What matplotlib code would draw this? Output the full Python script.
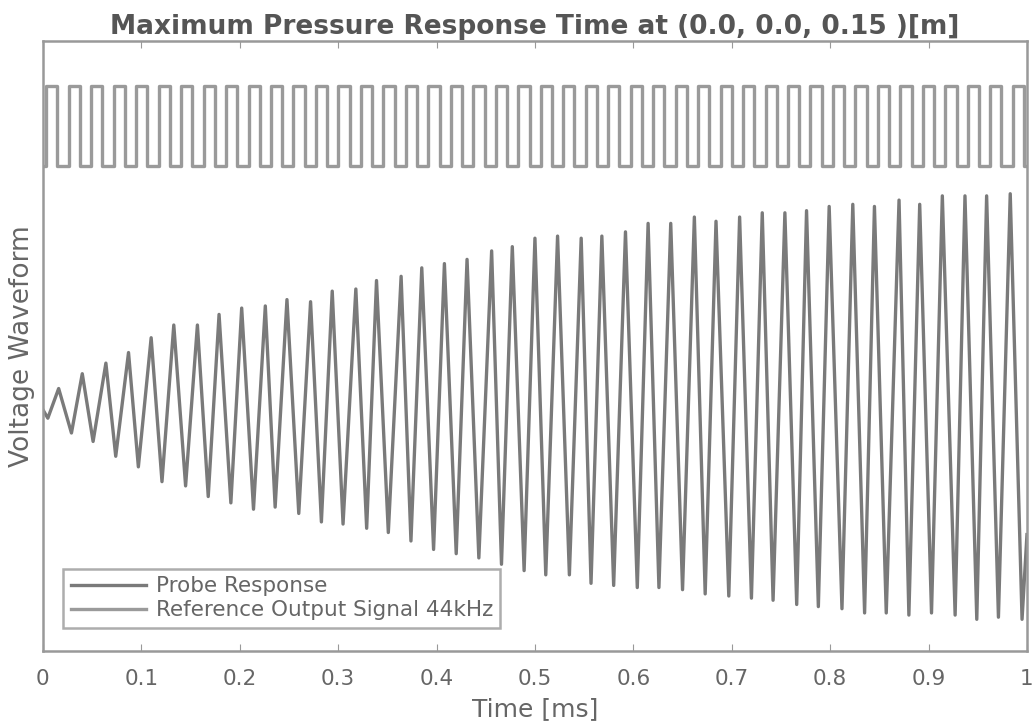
import matplotlib.pyplot as plt
import numpy as np

# probe response: times (ms) and values of the turning points
probe_t = [0.000, 0.005, 0.016, 0.029, 0.040, 0.051, 0.064, 0.074, 0.087, 0.097,
           0.110, 0.121, 0.133, 0.145, 0.157, 0.168, 0.179, 0.191, 0.202, 0.214,
           0.226, 0.236, 0.248, 0.260, 0.272, 0.283, 0.294, 0.305, 0.318, 0.329,
           0.339, 0.351, 0.364, 0.374, 0.385, 0.397, 0.408, 0.420, 0.431, 0.443,
           0.456, 0.466, 0.477, 0.489, 0.500, 0.511, 0.523, 0.535, 0.547, 0.557,
           0.568, 0.580, 0.592, 0.604, 0.615, 0.626, 0.638, 0.650, 0.662, 0.673,
           0.684, 0.697, 0.708, 0.720, 0.731, 0.742, 0.754, 0.766, 0.776, 0.788,
           0.799, 0.812, 0.823, 0.835, 0.845, 0.857, 0.870, 0.880, 0.891, 0.903,
           0.914, 0.927, 0.937, 0.949, 0.959, 0.971, 0.983, 0.995, 1.000]
probe_v = [-0.01, -0.05, 0.09, -0.12, 0.16, -0.16, 0.21, -0.23, 0.26, -0.28,
           0.33, -0.35, 0.39, -0.37, 0.39, -0.42, 0.44, -0.45, 0.47, -0.48,
           0.48, -0.47, 0.51, -0.50, 0.50, -0.54, 0.55, -0.55, 0.56, -0.57,
           0.60, -0.59, 0.62, -0.63, 0.66, -0.67, 0.68, -0.69, 0.70, -0.71,
           0.74, -0.74, 0.76, -0.77, 0.80, -0.79, 0.81, -0.79, 0.80, -0.83,
           0.81, -0.84, 0.83, -0.85, 0.87, -0.85, 0.87, -0.86, 0.90, -0.88,
           0.88, -0.89, 0.90, -0.90, 0.92, -0.91, 0.92, -0.93, 0.93, -0.94,
           0.95, -0.95, 0.96, -0.97, 0.95, -0.97, 0.98, -0.98, 0.96, -0.97,
           1.00, -0.98, 1.00, -1.00, 1.00, -0.99, 1.01, -1.00, -0.60]

# reference output signal (square wave): rising / falling edge times in ms
ref_rise = [0.0034, 0.0262, 0.0490, 0.0719, 0.0947, 0.1176, 0.1404, 0.1633, 0.1861, 0.2090,
            0.2318, 0.2546, 0.2775, 0.3003, 0.3232, 0.3460, 0.3689, 0.3917, 0.4145, 0.4374,
            0.4602, 0.4831, 0.5059, 0.5288, 0.5516, 0.5744, 0.5973, 0.6201, 0.6430, 0.6658,
            0.6886, 0.7115, 0.7343, 0.7572, 0.7800, 0.8029, 0.8257, 0.8485, 0.8714, 0.8942,
            0.9170, 0.9399, 0.9627, 0.9856]
ref_fall = [0.0148, 0.0376, 0.0604, 0.0833, 0.1061, 0.1290, 0.1518, 0.1747, 0.1975, 0.2204,
            0.2432, 0.2660, 0.2889, 0.3117, 0.3346, 0.3574, 0.3803, 0.4031, 0.4259, 0.4488,
            0.4716, 0.4945, 0.5173, 0.5402, 0.5630, 0.5858, 0.6087, 0.6315, 0.6544, 0.6772,
            0.7000, 0.7229, 0.7457, 0.7686, 0.7914, 0.8143, 0.8371, 0.8599, 0.8828, 0.9056,
            0.9284, 0.9513, 0.9741, 0.9970]
ref_high = 1.52
ref_low = 1.14

xticks = [0, 0.1, 0.2, 0.3, 0.4, 0.5, 0.6, 0.7, 0.8, 0.9, 1]
xticklabels = ['0', '0.1', '0.2', '0.3', '0.4', '0.5', '0.6', '0.7', '0.8', '0.9', '1']

# build the step path of the square wave
sq_t = [0.0]
sq_v = [ref_low]
for r, f in zip(ref_rise, ref_fall):
    sq_t += [r, r, f, f]
    sq_v += [ref_low, ref_high, ref_high, ref_low]
sq_t.append(1.0)
sq_v.append(ref_low)

txt = '#666666'
plt.rcParams['font.family'] = 'DejaVu Sans'

fig = plt.figure(figsize=(10.34, 7.25), dpi=100)
ax = fig.add_axes([0.0415, 0.102, 0.9517, 0.841])

ax.plot(probe_t, probe_v, color='#7a7a7a', lw=2.4, solid_joinstyle='round',
        label='Probe Response')
ax.plot(sq_t, sq_v, color='#9a9a9a', lw=2.4, label='Reference Output Signal 44kHz')

ax.set_xlim(0, 1)
ax.set_ylim(-1.15, 1.73)
ax.set_xticks(xticks)
ax.set_xticklabels(xticklabels)
ax.set_yticks([])
ax.tick_params(axis='x', direction='in', top=True, length=5, color='#999999',
               labelsize=15.5, labelcolor=txt, pad=13)
for s in ax.spines.values():
    s.set_color('#999999')
    s.set_linewidth(1.8)

ax.set_title('Maximum Pressure Response Time at (0.0, 0.0, 0.15 )[m]',
             fontsize=19, fontweight='bold', color='#555555', pad=5)
ax.set_xlabel('Time [ms]', fontsize=18, color=txt, labelpad=6)
ax.set_ylabel('Voltage Waveform', fontsize=19, color=txt, labelpad=6)

leg = ax.legend(loc='lower left', bbox_to_anchor=(0.0204, 0.038), borderaxespad=0,
                fontsize=15.5, fancybox=False, frameon=True, handlelength=3.5,
                handletextpad=0.45, borderpad=0.35, labelspacing=0.2)
leg.get_frame().set_edgecolor('#999999')
leg.get_frame().set_linewidth(1.8)
for t in leg.get_texts():
    t.set_color(txt)

fig.savefig('out.png', dpi=100)
